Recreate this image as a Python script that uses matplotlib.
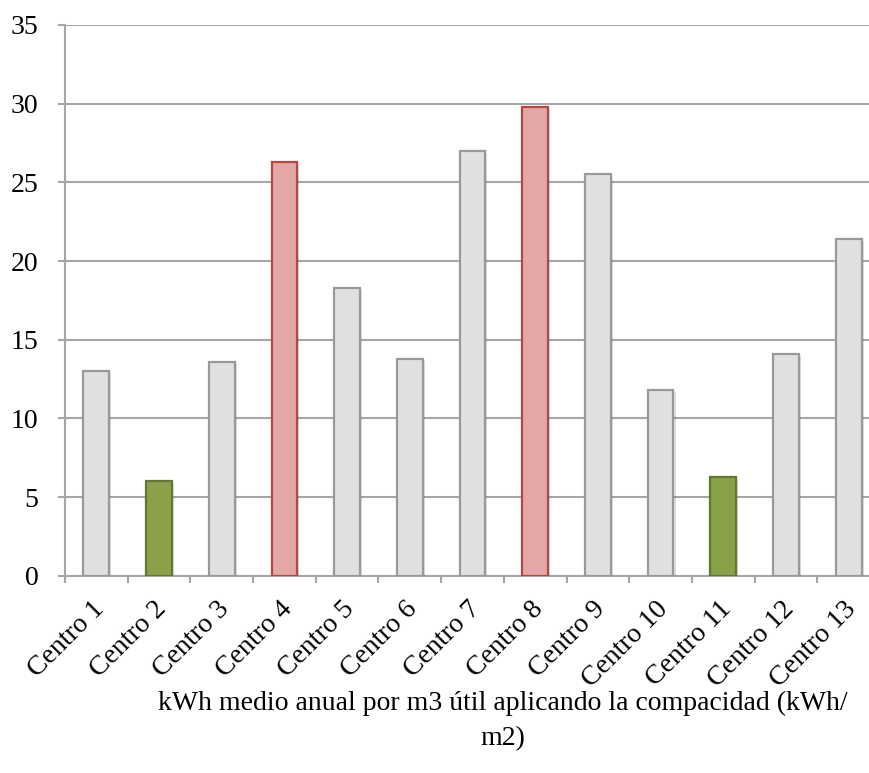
import matplotlib
matplotlib.use("Agg")
import matplotlib.pyplot as plt
import matplotlib.patheffects as pe
import matplotlib.transforms as mtransforms
import numpy as np

categories = ["Centro 1", "Centro 2", "Centro 3", "Centro 4", "Centro 5", "Centro 6",
              "Centro 7", "Centro 8", "Centro 9", "Centro 10", "Centro 11", "Centro 12",
              "Centro 13"]
values = [13.0, 6.0, 13.6, 26.3, 18.3, 13.8, 27.0, 29.8, 25.5, 11.8, 6.3, 14.1, 21.4]
groups = ["n", "low", "n", "high", "n", "n", "n", "high", "n", "n", "low", "n", "n"]
y_ticks = [0, 5, 10, 15, 20, 25, 30, 35]
x_title = "kWh medio anual por m3 útil aplicando la compacidad (kWh/\nm2)"

fills = {"n": "#e0e0e0", "low": "#8aa14a", "high": "#e2a7a6"}
edges = {"n": "#999999", "low": "#5f7a30", "high": "#b24a44"}

plt.rcParams["font.family"] = ["Liberation Serif", "DejaVu Serif"]

W, H = 869, 773
fig = plt.figure(figsize=(W / 100, H / 100), dpi=100)
left, right, top, bottom = 65, 880, 25, 575.7
ax = fig.add_axes([left / W, (H - bottom) / H, (right - left) / W, (bottom - top) / H])

x = np.arange(len(categories))
bars = ax.bar(x, values, width=0.41,
              color=[fills[g] for g in groups],
              edgecolor=[edges[g] for g in groups],
              linewidth=1.6, zorder=3)
for b in bars:
    b.set_path_effects([pe.SimplePatchShadow(offset=(1.5, -1.5), shadow_rgbFace="#000000", alpha=0.12),
                        pe.Normal()])

ax.set_xlim(-0.5, len(categories) - 0.5)
ax.set_ylim(0, 35)
ax.set_yticks(y_ticks)
ax.set_yticklabels([str(t) for t in y_ticks], fontsize=20)
ax.yaxis.grid(True, color="#a6a6a6", linewidth=1.5, zorder=0)
ax.set_axisbelow(True)

ax.set_xticks(x)
ax.set_xticklabels(categories, rotation=45, ha="right", va="top",
                   rotation_mode="anchor", fontsize=20)
ax.tick_params(axis="x", which="major", length=0, pad=15)
shift = mtransforms.ScaledTranslation(-5 / 100, 0, fig.dpi_scale_trans)
for lbl in ax.get_xticklabels():
    lbl.set_transform(lbl.get_transform() + shift)
ax.set_xticks(np.arange(-0.5, len(categories) + 0.5, 1), minor=True)
ax.tick_params(axis="x", which="minor", length=5, width=1.5, color="#a6a6a6")
ax.tick_params(axis="y", length=5, width=1.5, color="#a6a6a6", pad=14)

for s in ["top", "right"]:
    ax.spines[s].set_visible(False)
for s in ["left", "bottom"]:
    ax.spines[s].set_color("#a6a6a6")
    ax.spines[s].set_linewidth(1.5)

fig.text(503 / W, 1 - 721 / H, x_title, ha="center", va="center", fontsize=20,
         linespacing=1.5)

fig.savefig("out.png", dpi=100)
